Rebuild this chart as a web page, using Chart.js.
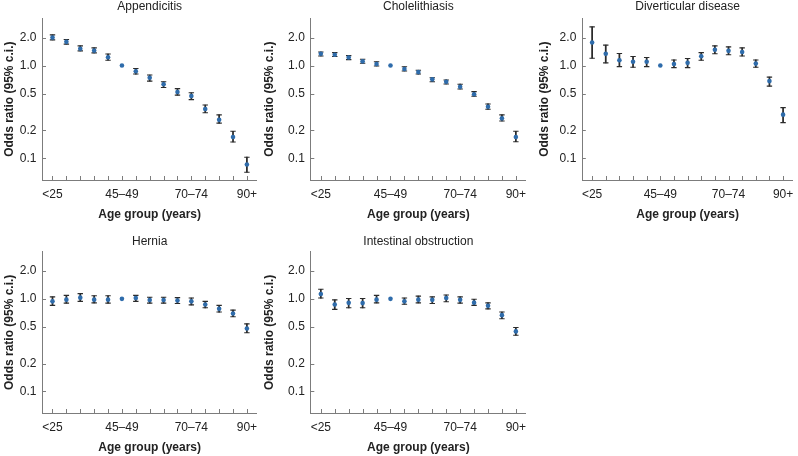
<!DOCTYPE html>
<html>
<head>
<meta charset="utf-8">
<script src="https://cdn.jsdelivr.net/npm/chart.js@4/dist/chart.umd.min.js"></script>
<style>
html,body{margin:0;padding:0;background:#fff;}
body{width:798px;height:456px;overflow:hidden;position:relative;}
canvas{position:absolute;}
</style>
</head>
<body>
<canvas id="c1" width="262" height="224" style="left:0px;top:-1px"></canvas>
<canvas id="c2" width="271" height="224" style="left:260px;top:-1px"></canvas>
<canvas id="c3" width="263" height="224" style="left:535px;top:-1px"></canvas>
<canvas id="c4" width="262" height="222" style="left:0px;top:234px"></canvas>
<canvas id="c5" width="271" height="222" style="left:260px;top:234px"></canvas>
<script>
// ---- Data ----
const ageGroups = ['<25','25–29','30–34','35–39','40–44','45–49','50–54','55–59','60–64','65–69','70–74','75–79','80–84','85–89','90+'];
const xTickLabelIdx = [0, 5, 10, 14];
const yTickValues = [0.1, 0.2, 0.5, 1.0, 2.0];
const yTickLabels = ['0.1', '0.2', '0.5', '1.0', '2.0'];

const panelTitles = ['Appendicitis', 'Cholelithiasis', 'Diverticular disease', 'Hernia', 'Intestinal obstruction'];

const appendicitisOR = [2.00, 1.80, 1.52, 1.45, 1.23, 1.00, 0.87, 0.74, 0.63, 0.52, 0.47, 0.34, 0.26, 0.17, 0.086];
const appendicitisLo = [1.89, 1.70, 1.44, 1.37, 1.14, null, 0.81, 0.68, 0.58, 0.48, 0.43, 0.31, 0.24, 0.15, 0.071];
const appendicitisHi = [2.14, 1.91, 1.63, 1.55, 1.33, null, 0.93, 0.79, 0.67, 0.565, 0.51, 0.376, 0.294, 0.196, 0.103];

const cholelithiasisOR = [1.34, 1.31, 1.22, 1.11, 1.04, 1.00, 0.92, 0.85, 0.71, 0.67, 0.59, 0.49, 0.36, 0.27, 0.17];
const cholelithiasisLo = [1.27, 1.25, 1.16, 1.06, 0.99, null, 0.875, 0.81, 0.67, 0.634, 0.56, 0.467, 0.338, 0.253, 0.151];
const cholelithiasisHi = [1.40, 1.38, 1.28, 1.17, 1.10, null, 0.97, 0.89, 0.74, 0.70, 0.63, 0.524, 0.386, 0.294, 0.196];

const diverticularOR = [1.77, 1.34, 1.14, 1.10, 1.10, 1.00, 1.04, 1.07, 1.26, 1.48, 1.44, 1.40, 1.05, 0.68, 0.296];
const diverticularLo = [1.20, 1.07, 0.975, 0.96, 0.975, null, 0.95, 0.95, 1.14, 1.34, 1.31, 1.27, 0.96, 0.60, 0.243];
const diverticularHi = [2.61, 1.66, 1.35, 1.25, 1.22, null, 1.15, 1.19, 1.38, 1.63, 1.59, 1.55, 1.15, 0.75, 0.352];

const herniaOR = [0.94, 0.98, 1.03, 0.98, 0.98, 1.00, 1.02, 0.97, 0.97, 0.96, 0.94, 0.87, 0.78, 0.695, 0.479];
const herniaLo = [0.85, 0.90, 0.94, 0.905, 0.90, null, 0.94, 0.90, 0.90, 0.89, 0.86, 0.80, 0.72, 0.64, 0.43];
const herniaHi = [1.05, 1.09, 1.14, 1.08, 1.08, null, 1.09, 1.04, 1.04, 1.03, 1.02, 0.94, 0.85, 0.755, 0.537];

const obstructionOR = [1.13, 0.87, 0.905, 0.90, 0.98, 1.00, 0.94, 0.98, 0.975, 1.02, 0.975, 0.91, 0.84, 0.667, 0.445];
const obstructionLo = [1.02, 0.77, 0.80, 0.80, 0.905, null, 0.875, 0.905, 0.89, 0.93, 0.90, 0.85, 0.78, 0.61, 0.405];
const obstructionHi = [1.27, 0.975, 1.01, 1.01, 1.09, null, 1.02, 1.07, 1.05, 1.10, 1.05, 0.99, 0.905, 0.72, 0.49];

// ---- Styles ----
const FONT = '"Liberation Sans", Arial, Helvetica, sans-serif';
const MARKER = '#2f6cab';
const WHISKER = '#2b2b2b';
const AXIS = '#7c7c7c';
const TEXT = '#222';

const innerTicks = {
  id: 'innerTicks',
  afterDraw(chart) {
    const ctx = chart.ctx, xs = chart.scales.x, ys = chart.scales.y, a = chart.chartArea;
    ctx.save();
    ctx.strokeStyle = AXIS;
    ctx.lineWidth = 1;
    ctx.beginPath();
    xs.ticks.forEach(t => {
      const px = Math.round(xs.getPixelForValue(t.value)) + 0.5;
      ctx.moveTo(px, a.bottom);
      ctx.lineTo(px, a.bottom - 4);
    });
    ys.ticks.forEach(t => {
      const py = Math.round(ys.getPixelForValue(t.value)) + 0.5;
      ctx.moveTo(a.left, py);
      ctx.lineTo(a.left + 3.5, py);
    });
    ctx.stroke();
    ctx.restore();
  }
};

function makePanel(id, title, or, lo, hi, yWidth, titlePadBottom, rightPad) {
  const idx = ageGroups.map((_, i) => i);
  const points = idx.map(i => ({x: i, y: or[i]}));
  const caps = [];
  const bars = [];
  idx.forEach(i => {
    if (lo[i] != null && hi[i] != null) {
      caps.push({x: i, y: lo[i]});
      caps.push({x: i, y: hi[i]});
      bars.push({x: i, y: [lo[i], hi[i]]});
    }
  });
  new Chart(document.getElementById(id), {
    type: 'scatter',
    data: {
      datasets: [
        {type: 'scatter', data: points, pointStyle: 'circle', pointRadius: 2.3,
         backgroundColor: MARKER, pointBackgroundColor: MARKER, borderWidth: 0, pointBorderWidth: 0, order: 0},
        {type: 'scatter', data: caps, pointStyle: 'line', pointRadius: 2.7,
         borderColor: WHISKER, pointBorderColor: WHISKER, pointBorderWidth: 1.1, order: 1},
        {type: 'bar', data: bars, barThickness: 1.1, backgroundColor: WHISKER, borderWidth: 0, order: 2}
      ]
    },
    options: {
      responsive: false,
      animation: false,
      events: [],
      layout: {padding: {left: 0, right: rightPad, top: 0, bottom: 0}},
      plugins: {
        legend: {display: false},
        tooltip: {enabled: false},
        title: {
          display: true, text: title, fullSize: false, color: TEXT,
          font: {family: FONT, size: 12, weight: 'normal', lineHeight: 1.2},
          padding: {top: 0, bottom: titlePadBottom}
        }
      },
      scales: {
        x: {
          type: 'linear', position: 'bottom', offset: false,
          min: -0.72, max: 14.72,
          afterBuildTicks(s) { s.ticks = ageGroups.map((_, i) => ({value: i})); },
          afterFit(s) { s.height = 43; s.paddingLeft = 0; s.paddingRight = 0; },
          grid: {display: true, drawOnChartArea: false, drawTicks: false},
          border: {display: true, color: AXIS, width: 1},
          ticks: {
            autoSkip: false, maxRotation: 0, minRotation: 0, padding: 7, color: TEXT,
            font: {family: FONT, size: 12},
            callback: (v) => xTickLabelIdx.includes(v) ? ageGroups[v] : ''
          },
          title: {
            display: true, text: 'Age group (years)', color: TEXT,
            font: {family: FONT, size: 12, weight: 'bold', lineHeight: 1.2},
            padding: {top: 0, bottom: 0.8}
          }
        },
        y: {
          type: 'logarithmic', position: 'left',
          min: 0.0585, max: 3.23,
          afterBuildTicks(s) { s.ticks = yTickValues.map(v => ({value: v})); },
          afterFit(s) { s.width = yWidth; s.paddingTop = 0; s.paddingBottom = 0; },
          grid: {display: true, drawOnChartArea: false, drawTicks: false},
          border: {display: true, color: AXIS, width: 1},
          ticks: {
            padding: 6, color: TEXT, font: {family: FONT, size: 12},
            callback: (v) => { const k = yTickValues.indexOf(v); return k >= 0 ? yTickLabels[k] : ''; }
          },
          title: {
            display: true, text: 'Odds ratio (95% c.i.)', color: TEXT,
            font: {family: FONT, size: 12, weight: 'bold', lineHeight: 1.2},
            padding: {top: 2.8, bottom: 0}
          }
        }
      }
    },
    plugins: [innerTicks]
  });
}

makePanel('c1', panelTitles[0], appendicitisOR, appendicitisLo, appendicitisHi, 42.5, 4.9, 4);
makePanel('c2', panelTitles[1], cholelithiasisOR, cholelithiasisLo, cholelithiasisHi, 50.8, 4.9, 4);
makePanel('c3', panelTitles[2], diverticularOR, diverticularLo, diverticularHi, 47.3, 4.9, 0);
makePanel('c4', panelTitles[3], herniaOR, herniaLo, herniaHi, 42.5, 3.3, 4);
makePanel('c5', panelTitles[4], obstructionOR, obstructionLo, obstructionHi, 50.8, 3.3, 4);
</script>
</body>
</html>
